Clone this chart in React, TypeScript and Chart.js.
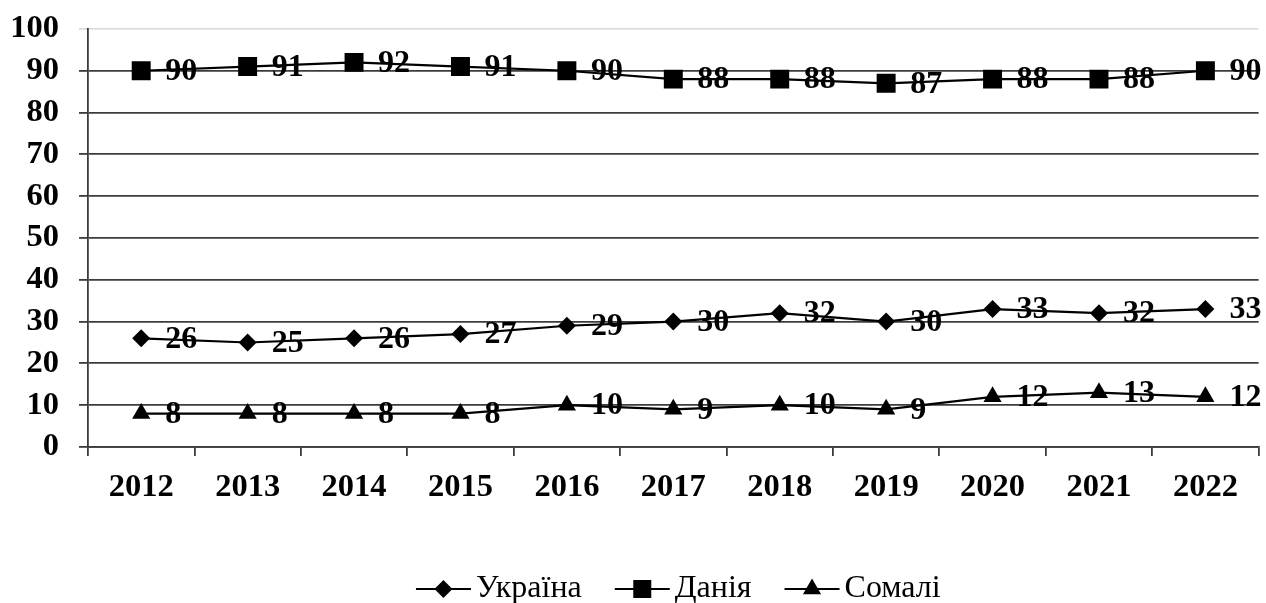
import React, { useEffect, useRef } from "react";
import { Chart, registerables } from "chart.js";

Chart.register(...registerables);

const years = ["2012", "2013", "2014", "2015", "2016", "2017", "2018", "2019", "2020", "2021", "2022"];
const ukraine = [26, 25, 26, 27, 29, 30, 32, 30, 33, 32, 33];
const denmark = [90, 91, 92, 91, 90, 88, 88, 87, 88, 88, 90];
const somalia = [8, 8, 8, 8, 10, 9, 10, 9, 12, 13, 12];
const seriesNames = ["Україна", "Данія", "Сомалі"];

const FONT = "'Liberation Serif', 'Times New Roman', serif";
const GRID = "#3c3c3c";
const CANVAS_W = 1272;

function drawMarker(ctx: CanvasRenderingContext2D, style: string, x: number, y: number) {
  ctx.beginPath();
  if (style === "rectRot") {
    const r = 9;
    ctx.moveTo(x - r, y);
    ctx.lineTo(x, y - r);
    ctx.lineTo(x + r, y);
    ctx.lineTo(x, y + r);
    ctx.closePath();
  } else if (style === "rect") {
    const s = 9;
    ctx.rect(x - s, y - s, 2 * s, 2 * s);
  } else {
    const r = 10.5;
    ctx.moveTo(x, y - r);
    ctx.lineTo(x + r * 0.866, y + r * 0.5);
    ctx.lineTo(x - r * 0.866, y + r * 0.5);
    ctx.closePath();
  }
  ctx.fill();
}

const valueLabels = {
  id: "valueLabels",
  afterDatasetsDraw(chart: any) {
    const ctx = chart.ctx as CanvasRenderingContext2D;
    ctx.save();
    ctx.font = `bold 32px ${FONT}`;
    ctx.fillStyle = "#000";
    ctx.textAlign = "left";
    ctx.textBaseline = "middle";
    chart.data.datasets.forEach((ds: any, i: number) => {
      const meta = chart.getDatasetMeta(i);
      meta.data.forEach((pt: any, j: number) => {
        ctx.fillText(String(ds.data[j]), pt.x + 24, pt.y + 1);
      });
    });
    ctx.restore();
  },
};

const bottomLegend = {
  id: "bottomLegend",
  afterDraw(chart: any) {
    const ctx = chart.ctx as CanvasRenderingContext2D;
    const styles = ["rectRot", "rect", "triangle"];
    ctx.save();
    ctx.font = `32px ${FONT}`;
    const lineLen = 55;
    const gapText = 5;
    const gapItem = 33;
    const widths = seriesNames.map((n) => ctx.measureText(n).width);
    const total = widths.reduce((a, w) => a + lineLen + gapText + w, 0) + gapItem * (seriesNames.length - 1);
    const center = (chart.chartArea.left + chart.chartArea.right) / 2 + 5;
    let x = center - total / 2;
    const y = 589;
    ctx.fillStyle = "#000";
    ctx.strokeStyle = "#000";
    ctx.lineWidth = 2;
    ctx.textAlign = "left";
    ctx.textBaseline = "middle";
    seriesNames.forEach((name, i) => {
      ctx.beginPath();
      ctx.moveTo(x, y);
      ctx.lineTo(x + lineLen, y);
      ctx.stroke();
      drawMarker(ctx, styles[i], x + lineLen / 2, y);
      x += lineLen + gapText;
      ctx.fillText(name, x, y);
      x += widths[i] + gapItem;
    });
    ctx.restore();
  },
};

export default function App() {
  const ref = useRef<HTMLCanvasElement>(null);

  useEffect(() => {
    if (!ref.current) return;
    const common = {
      borderColor: "#000",
      backgroundColor: "#000",
      borderWidth: 2.2,
      pointBackgroundColor: "#000",
      pointBorderWidth: 0,
      tension: 0,
    };
    const chart = new Chart(ref.current, {
      type: "line",
      data: {
        labels: years,
        datasets: [
          { ...common, label: seriesNames[0], data: ukraine, pointStyle: "rectRot", pointRadius: 9 },
          { ...common, label: seriesNames[1], data: denmark, pointStyle: "rect", pointRadius: 13.4 },
          { ...common, label: seriesNames[2], data: somalia, pointStyle: "triangle", pointRadius: 10.5 },
        ],
      },
      options: {
        animation: false,
        responsive: false,
        events: [],
        layout: { padding: { top: 0, right: 0, bottom: 96, left: 0 } },
        plugins: { legend: { display: false }, tooltip: { enabled: false } },
        scales: {
          x: {
            offset: true,
            grid: {
              offset: true,
              drawOnChartArea: false,
              drawTicks: true,
              tickLength: 9,
              color: GRID,
              lineWidth: 1.8,
            },
            border: { display: true, color: GRID, width: 1.8 },
            ticks: {
              color: "#000",
              font: { family: FONT, size: 32.5, weight: "bold" },
              padding: 12,
              maxRotation: 0,
              autoSkip: false,
            },
            afterFit: (s: any) => {
              s.height = 60;
            },
          },
          y: {
            min: 0,
            max: 100,
            grid: {
              color: (c: any) => (c.tick && c.tick.value === 100 ? "#dcdcdc" : GRID),
              lineWidth: 1.8,
              tickLength: 9,
            },
            border: { display: true, color: GRID, width: 1.8 },
            ticks: {
              stepSize: 10,
              autoSkip: false,
              color: "#000",
              font: { family: FONT, size: 32.5, weight: "bold", lineHeight: 0.55 },
              padding: 20,
            },
            afterFit: (s: any) => {
              s.width = 88;
            },
          },
        },
      },
      plugins: [valueLabels, bottomLegend],
    });
    return () => chart.destroy();
  }, []);

  return (
    <div style={{ position: "fixed", left: 0, top: 0, width: 1266, height: 603, background: "#fff", overflow: "hidden" }}>
      <canvas ref={ref} width={CANVAS_W} height={603} style={{ width: CANVAS_W, height: 603, display: "block" }} />
    </div>
  );
}
